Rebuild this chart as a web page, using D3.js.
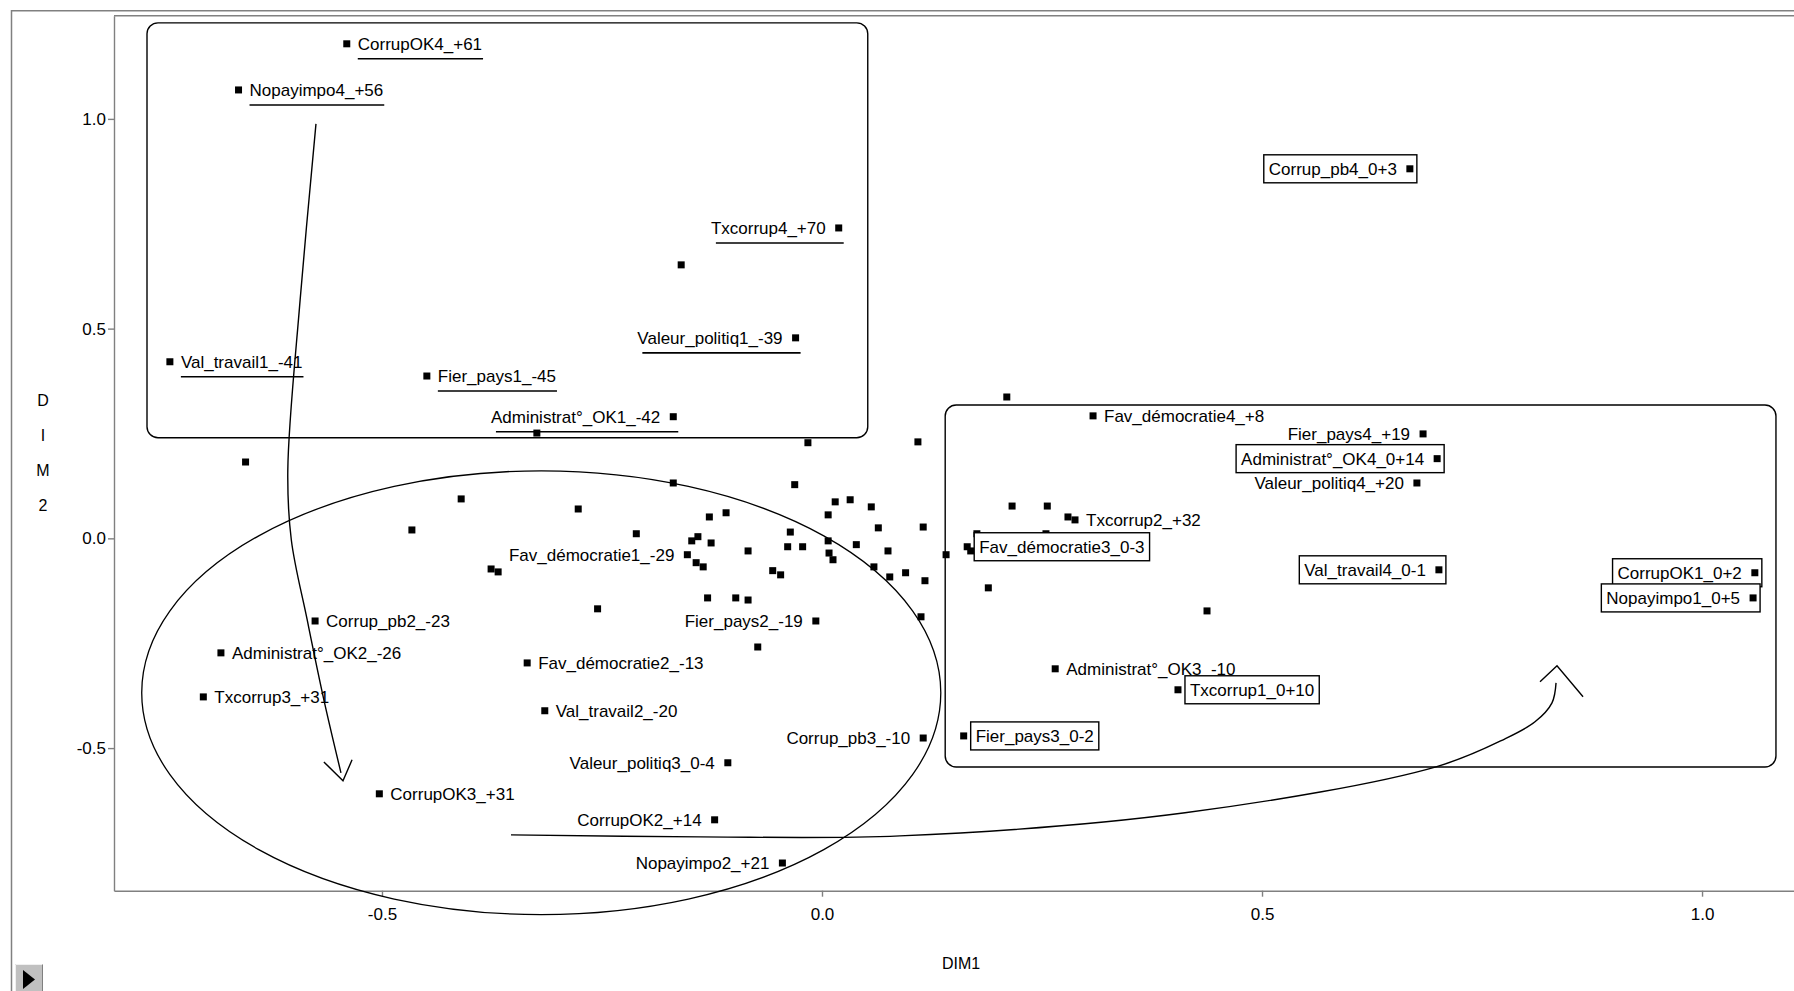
<!DOCTYPE html>
<html>
<head>
<meta charset="utf-8">
<script src="https://cdn.jsdelivr.net/npm/d3@7"></script>
<style>
    body { margin: 0; background: #fff; }
    svg { display: block; font-family: "Liberation Sans", Arial, sans-serif; }
    .axis text { font-size: 17px; fill: #000; }
    .axis path, .axis line { stroke: #808080; stroke-width: 1.4; }
    .lbl { font-size: 17px; fill: #000; }
</style>
</head>
<body>
<div id="chart"></div>
<script>
// --- labelled modalities (DIM1, DIM2)
const pointLabels = [
    'CorrupOK4_+61', 'Nopayimpo4_+56', 'Txcorrup4_+70', 'Valeur_politiq1_-39', 'Val_travail1_-41',
    'Fier_pays1_-45', 'Administrat°_OK1_-42', 'Corrup_pb4_0+3', 'Fav_démocratie4_+8', 'Fier_pays4_+19',
    'Administrat°_OK4_0+14', 'Valeur_politiq4_+20', 'Txcorrup2_+32', 'Fav_démocratie3_0-3', 'Val_travail4_0-1',
    'CorrupOK1_0+2', 'Nopayimpo1_0+5', 'Administrat°_OK3_-10', 'Txcorrup1_0+10', 'Fier_pays3_0-2',
    'Corrup_pb3_-10', 'Corrup_pb2_-23', 'Administrat°_OK2_-26', 'Txcorrup3_+31', 'CorrupOK3_+31',
    'Fav_démocratie2_-13', 'Val_travail2_-20', 'Valeur_politiq3_0-4', 'CorrupOK2_+14', 'Nopayimpo2_+21',
    'Fier_pays2_-19', 'Fav_démocratie1_-29'
];
const pointDim1 = [
    -0.540, -0.663, 0.019, -0.030, -0.741,
    -0.449, -0.169, 0.668, 0.308, 0.683,
    0.699, 0.676, 0.2875, 0.165, 0.701,
    1.060, 1.058, 0.265, 0.4045, 0.161,
    0.115, -0.576, -0.683, -0.703, -0.503,
    -0.335, -0.315, -0.107, -0.122, -0.045,
    -0.007, -0.153
];
const pointDim2 = [
    1.179, 1.069, 0.740, 0.478, 0.421,
    0.387, 0.290, 0.881, 0.292, 0.249,
    0.190, 0.132, 0.044, -0.020, -0.075,
    -0.082, -0.142, -0.311, -0.361, -0.471,
    -0.476, -0.197, -0.273, -0.378, -0.609,
    -0.297, -0.411, -0.535, -0.671, -0.774,
    -0.197, -0.039
];

// --- unlabelled modalities
const otherDim1 = [
    -0.160, -0.324, -0.655, -0.016, 0.210, 0.109, -0.031, -0.169, -0.277, -0.410,
    -0.466, -0.211, -0.128, -0.109, -0.148, -0.141, -0.126, -0.143, -0.135, -0.084,
    -0.056, -0.047, -0.376, -0.368, -0.130, -0.098, -0.084, -0.255, -0.073, 0.015,
    0.032, 0.056, 0.007, 0.115, 0.064, -0.036, -0.039, -0.022, 0.007, 0.039,
    0.075, 0.008, 0.0125, 0.141, 0.059, 0.077, 0.095, 0.117, 0.1125, 0.216,
    0.256, 0.176, 0.2545, 0.189, 0.4375, 0.2795, 0.169
];
const otherDim2 = [
    0.652, 0.251, 0.182, 0.228, 0.337, 0.230, 0.128, 0.132, 0.070, 0.094,
    0.020, 0.011, 0.051, 0.061, -0.006, 0.004, -0.011, -0.058, -0.068, -0.030,
    -0.077, -0.087, -0.073, -0.080, -0.142, -0.142, -0.147, -0.168, -0.259, 0.087,
    0.092, 0.075, 0.056, 0.027, 0.025, 0.015, -0.020, -0.020, -0.006, -0.015,
    -0.030, -0.035, -0.051, -0.039, -0.068, -0.092, -0.082, -0.101, -0.187, 0.077,
    0.077, 0.011, 0.011, -0.118, -0.173, 0.051, -0.030
];

const xTicks = [-0.5, 0.0, 0.5, 1.0];
const yTicks = [-0.5, 0.0, 0.5, 1.0];

// label decoration groups
const boxedLabels = ['Corrup_pb4_0+3', 'Administrat°_OK4_0+14', 'Fav_démocratie3_0-3', 'Val_travail4_0-1',
    'CorrupOK1_0+2', 'Nopayimpo1_0+5', 'Txcorrup1_0+10', 'Fier_pays3_0-2'];
const underlinedLabels = ['CorrupOK4_+61', 'Nopayimpo4_+56', 'Txcorrup4_+70', 'Valeur_politiq1_-39',
    'Val_travail1_-41', 'Fier_pays1_-45', 'Administrat°_OK1_-42'];
const leftLabels = ['Txcorrup4_+70', 'Valeur_politiq1_-39', 'Administrat°_OK1_-42', 'Corrup_pb4_0+3',
    'Fier_pays4_+19', 'Administrat°_OK4_0+14', 'Valeur_politiq4_+20', 'Val_travail4_0-1', 'CorrupOK1_0+2',
    'Nopayimpo1_0+5', 'Corrup_pb3_-10', 'Valeur_politiq3_0-4', 'CorrupOK2_+14', 'Nopayimpo2_+21',
    'Fier_pays2_-19', 'Fav_démocratie1_-29'];

// --- hand drawn annotations, in data units
const groupBoxes = [
    { x0: -0.767, x1: 0.052, y0: 0.240, y1: 1.229 },
    { x0: 0.140, x1: 1.084, y0: -0.545, y1: 0.318 }
];
const groupEllipse = { cx: -0.319, cy: -0.368, rx: 0.454, ry: 0.529 };
const arrowShafts = [
    [[-0.575, 0.988], [-0.593, 0.5685], [-0.607, 0.163], [-0.603, -0.004], [-0.585, -0.194], [-0.566, -0.385], [-0.5466, -0.559]],
    [[-0.3534, -0.7068], [-0.1386, -0.7116], [0.0886, -0.7092], [0.4125, -0.6543], [0.6977, -0.5447],
     [0.7761, -0.4779], [0.8102, -0.4374], [0.8295, -0.3921], [0.8341, -0.3445]]
];
const arrowHeads = [
    [[-0.566, -0.533], [-0.5443, -0.578], [-0.534, -0.528]],
    [[0.8159, -0.3421], [0.8352, -0.3039], [0.8648, -0.3778]]
];

class CorrespondenceMap {
    constructor(container) {
        this.container = container;
        this.width = 1794;
        this.height = 991;
        this.plot = { left: 114, right: 1794, top: 15.7, bottom: 890.7 };
        this.MARKER = 7;
    }

    initSVG() {
        d3.select(this.container).selectAll('svg').remove();
        return d3.select(this.container).append('svg')
            .attr('width', this.width)
            .attr('height', this.height);
    }

    draw() {
        const svg = this.initSVG();
        const p = this.plot;

        const x = d3.scaleLinear().domain([-0.8045, 1.1045]).range([p.left, p.right]);
        const y = d3.scaleLinear().domain([-0.84, 1.246]).range([p.bottom, p.top]);

        // --- window frame
        const frame = svg.append('g').attr('stroke', '#808080').attr('stroke-width', 1.5).attr('fill', 'none');
        frame.append('path').attr('d', `M11.5,${this.height} V10.7 H${this.width}`);
        frame.append('path').attr('d', `M${p.left},${p.top} H${p.right}`);

        // --- axes
        const xAxis = d3.axisBottom(x).tickValues(xTicks).tickSizeInner(6).tickSizeOuter(0)
            .tickPadding(11).tickFormat(d => d.toFixed(1));
        svg.append('g').attr('class', 'axis x')
            .attr('transform', `translate(0,${p.bottom})`)
            .call(xAxis);

        const yAxis = d3.axisLeft(y).tickValues(yTicks).tickSizeInner(6).tickSizeOuter(0)
            .tickPadding(2).tickFormat(d => d.toFixed(1));
        svg.append('g').attr('class', 'axis y')
            .attr('transform', `translate(${p.left},0)`)
            .call(yAxis);

        svg.append('text').attr('class', 'lbl')
            .attr('x', 961).attr('y', 963).attr('dy', '0.35em')
            .attr('text-anchor', 'middle').style('font-size', '16px')
            .text('DIM1');

        const yTitle = svg.append('text').attr('class', 'lbl')
            .attr('text-anchor', 'middle').style('font-size', '16px');
        ['D', 'I', 'M', '2'].forEach((ch, i) => {
            yTitle.append('tspan').attr('x', 43).attr('y', 400 + i * 35).attr('dy', '0.35em').text(ch);
        });

        // --- annotations
        const g_ann = svg.append('g').attr('fill', 'none').attr('stroke', '#000').attr('stroke-width', 1.4);
        groupBoxes.forEach(b => {
            g_ann.append('rect')
                .attr('x', x(b.x0)).attr('y', y(b.y1))
                .attr('width', x(b.x1) - x(b.x0)).attr('height', y(b.y0) - y(b.y1))
                .attr('rx', 11).attr('ry', 11);
        });
        g_ann.append('ellipse')
            .attr('cx', x(groupEllipse.cx)).attr('cy', y(groupEllipse.cy))
            .attr('rx', x(groupEllipse.cx + groupEllipse.rx) - x(groupEllipse.cx))
            .attr('ry', y(groupEllipse.cy) - y(groupEllipse.cy + groupEllipse.ry))
            .attr('stroke-width', 1.3);

        const shaft = d3.line().x(d => x(d[0])).y(d => y(d[1])).curve(d3.curveCatmullRom);
        const head = d3.line().x(d => x(d[0])).y(d => y(d[1]));
        arrowShafts.forEach(s => g_ann.append('path').attr('d', shaft(s)));
        arrowHeads.forEach(h => g_ann.append('path').attr('d', head(h)));

        // --- points
        const labelled = pointLabels.map((name, i) => ({
            name, dx: pointDim1[i], dy: pointDim2[i],
            left: leftLabels.includes(name),
            boxed: boxedLabels.includes(name),
            underlined: underlinedLabels.includes(name)
        }));
        const others = otherDim1.map((v, i) => ({ dx: v, dy: otherDim2[i] }));
        const m = this.MARKER;

        const g_pts = svg.append('g').attr('class', 'g-points');
        g_pts.selectAll('rect.other')
            .data(others)
            .join('rect').attr('class', 'other')
            .attr('x', d => x(d.dx) - m / 2).attr('y', d => y(d.dy) - m / 2)
            .attr('width', m).attr('height', m)
            .attr('fill', '#000');

        const plain = labelled.filter(d => !d.boxed);
        const boxed = labelled.filter(d => d.boxed);

        g_pts.selectAll('rect.plain')
            .data(plain)
            .join('rect').attr('class', 'plain')
            .attr('x', d => x(d.dx) - m / 2).attr('y', d => y(d.dy) - m / 2)
            .attr('width', m).attr('height', m)
            .attr('fill', '#000');

        const g_lbl = svg.append('g').attr('class', 'g-labels');
        plain.forEach(d => {
            const px = x(d.dx), py = y(d.dy);
            const t = g_lbl.append('text').attr('class', 'lbl')
                .attr('x', d.left ? px - 13 : px + 11).attr('y', py).attr('dy', '0.35em')
                .attr('text-anchor', d.left ? 'end' : 'start')
                .text(d.name);
            if (d.underlined) {
                const w = t.node().getComputedTextLength();
                const x0 = d.left ? px - 13 - w + 5 : px + 11;
                const x1 = d.left ? px + 5 : px + 11 + w + 1;
                g_lbl.append('line')
                    .attr('x1', x0).attr('x2', x1)
                    .attr('y1', py + 15).attr('y2', py + 15)
                    .attr('stroke', '#000').attr('stroke-width', 1.6);
            }
        });

        // boxed labels sit on white so they mask what lies underneath
        boxed.forEach(d => {
            const px = x(d.dx), py = y(d.dy);
            const g = g_lbl.append('g');
            const r = g.append('rect').attr('fill', '#fff').attr('stroke', '#000').attr('stroke-width', 1.4);
            const t = g.append('text').attr('class', 'lbl')
                .attr('x', d.left ? px - 13 : px + 12).attr('y', py).attr('dy', '0.35em')
                .attr('text-anchor', d.left ? 'end' : 'start')
                .text(d.name);
            const w = t.node().getComputedTextLength();
            const x0 = d.left ? px - 13 - w - 5 : px + 7;
            const x1 = d.left ? px + 7 : px + 12 + w + 5;
            r.attr('x', x0).attr('y', py - 14).attr('width', x1 - x0).attr('height', 28);
            g.append('rect')
                .attr('x', px - m / 2).attr('y', py - m / 2)
                .attr('width', m).attr('height', m)
                .attr('fill', '#000');
        });

        // --- little play button of the viewer
        const btn = svg.append('g').attr('transform', 'translate(15,964)');
        btn.append('rect').attr('width', 28).attr('height', 27).attr('fill', '#c0c0c0');
        btn.append('path').attr('d', 'M0.5,27 V0.5 H28').attr('fill', 'none').attr('stroke', '#f0f0f0');
        btn.append('path').attr('d', 'M27.5,0.5 V27').attr('fill', 'none').attr('stroke', '#808080');
        btn.append('path').attr('d', 'M8,6 L8,25 L20,15.5 Z').attr('fill', '#000');
    }
}

const chart = new CorrespondenceMap(document.getElementById('chart'));
chart.draw();
</script>
</body>
</html>
